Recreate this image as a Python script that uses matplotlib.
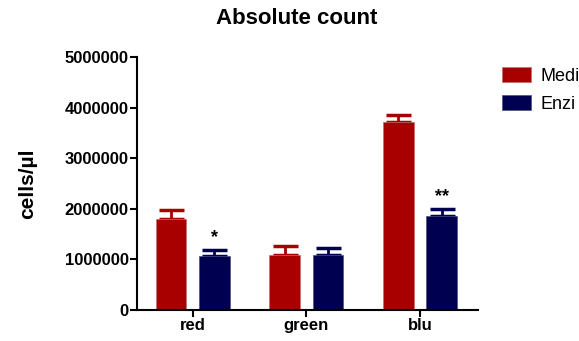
import numpy as np
import matplotlib.pyplot as plt

plt.rcParams['font.family'] = ['Liberation Sans', 'DejaVu Sans']

# dati
categorie = ['red', 'green', 'blu']
medi = [1800000, 1090000, 3720000]
medi_err = [180000, 170000, 130000]
enzi = [1070000, 1090000, 1860000]
enzi_err = [120000, 130000, 140000]
enzi_sig = ['*', '', '**']

col_medi = '#a80000'
col_enzi = '#000050'

fig = plt.figure(figsize=(5.79, 3.41), dpi=100)
ax = fig.add_axes([0.2366, 0.0909, 0.589, 0.742])

x = np.arange(len(categorie))
w = 0.27
off = 0.19

ax.bar(x - off, medi, w, color=col_medi, edgecolor='#c07070', linewidth=0.5, label='Medi', zorder=2)
ax.bar(x + off, enzi, w, color=col_enzi, edgecolor='#505080', linewidth=0.5, label='Enzi', zorder=2)

# barre di errore solo verso l'alto
ax.errorbar(x - off, medi, yerr=[np.zeros(3), medi_err], fmt='none', ecolor=col_medi,
            elinewidth=2, capsize=9, capthick=2.5, zorder=1)
ax.errorbar(x + off, enzi, yerr=[np.zeros(3), enzi_err], fmt='none', ecolor=col_enzi,
            elinewidth=2, capsize=9, capthick=2.5, zorder=1)

for xi, y, e, s in zip(x + off, enzi, enzi_err, enzi_sig):
    if s:
        ax.text(xi, y + e + 70000, s, ha='center', va='bottom', fontsize=13, fontweight='bold')

ax.set_xlim(-0.49, 2.51)
ax.set_ylim(0, 5000000)
ax.set_yticks(np.arange(0, 5000001, 1000000))
ax.set_yticklabels([str(v) for v in range(0, 5000001, 1000000)])
ax.set_xticks(x)
ax.set_xticklabels(categorie)

for lab in ax.get_xticklabels() + ax.get_yticklabels():
    lab.set_fontweight('bold')
    lab.set_fontsize(12)

ax.spines['top'].set_visible(False)
ax.spines['right'].set_visible(False)
ax.spines['left'].set_linewidth(1.5)
ax.spines['bottom'].set_linewidth(1.5)
ax.tick_params(direction='out', length=5, width=1.5, pad=1)

ax.set_ylabel('cells/µl', fontsize=15, fontweight='bold', labelpad=20)
fig.text(0.513, 0.945, 'Absolute count', ha='center', va='center', fontsize=16, fontweight='bold')

fig.legend(loc='upper left', bbox_to_anchor=(0.855, 0.825), frameon=False, fontsize=13,
           handlelength=1.6, handleheight=0.9, handletextpad=0.5, labelspacing=0.6,
           borderaxespad=0)

plt.savefig('out.png', dpi=100)
plt.close()
